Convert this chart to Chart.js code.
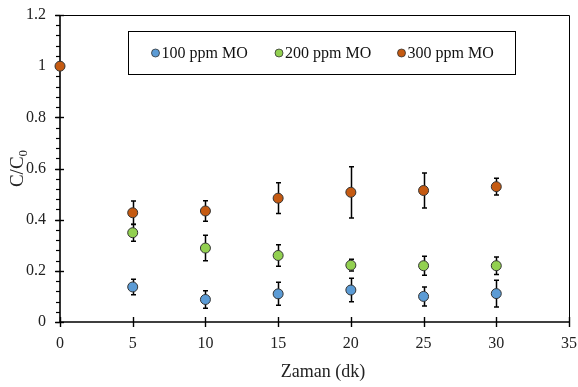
<!DOCTYPE html>
<html>
<head>
<meta charset="utf-8">
<script src="https://cdn.jsdelivr.net/npm/chart.js@4"></script>
<style>
  html, body { margin: 0; padding: 0; background: #fff; }
  #wrap { width: 578px; height: 387px; }
</style>
</head>
<body>
<div id="wrap"><canvas id="chart" width="578" height="387"></canvas></div>
<script>
// times (minutes)
const times = [0, 5, 10, 15, 20, 25, 30];
const times100 = [5, 10, 15, 20, 25, 30];

// C/C0 values
const mo100 = [0.137, 0.088, 0.110, 0.125, 0.100, 0.111];
const mo200 = [0.349, 0.289, 0.260, 0.222, 0.220, 0.220];
const mo300 = [1.0, 0.427, 0.434, 0.484, 0.507, 0.514, 0.529];

// error bar half-lengths
const err100 = [0.030, 0.034, 0.045, 0.046, 0.037, 0.052];
const err200 = [0.033, 0.050, 0.042, 0.023, 0.037, 0.034];
const err300 = [0, 0.046, 0.040, 0.060, 0.100, 0.068, 0.033];

const seriesNames = ["100 ppm MO", "200 ppm MO", "300 ppm MO"];
const seriesColors = ["#5B9BD5", "#92D050", "#C55A11"];
const yTicks = ["0", "0.2", "0.4", "0.6", "0.8", "1", "1.2"];
const xTicks = ["0", "5", "10", "15", "20", "25", "30", "35"];

const serif = "'Liberation Serif', 'Times New Roman', serif";

function pts(xs, ys) {
    return xs.map(function(x, i) { return { x: x, y: ys[i] }; });
}

const errorsBySet = [err100, err200, err300];

// frame, ticks and error bars drawn under the markers
const framePlugin = {
    id: "frame",
    beforeDatasetsDraw(chart) {
        const ctx = chart.ctx;
        const a = chart.chartArea;
        const xs = chart.scales.x;
        const ys = chart.scales.y;
        ctx.save();
        ctx.strokeStyle = "#000";

        // top and right frame
        ctx.lineWidth = 1;
        ctx.beginPath();
        ctx.moveTo(a.left, a.top + 0.5);
        ctx.lineTo(a.right + 0.5, a.top + 0.5);
        ctx.lineTo(a.right + 0.5, a.bottom);
        ctx.stroke();

        // axes
        ctx.lineWidth = 1.6;
        ctx.beginPath();
        ctx.moveTo(a.left, a.top);
        ctx.lineTo(a.left, a.bottom);
        ctx.lineTo(a.right + 1, a.bottom);
        ctx.stroke();

        // y minor ticks
        ctx.lineWidth = 1.2;
        for (let v = 0; v <= 1.2001; v += 0.04) {
            const py = Math.round(ys.getPixelForValue(v)) + 0.5;
            ctx.beginPath();
            ctx.moveTo(a.left - 4, py);
            ctx.lineTo(a.left, py);
            ctx.stroke();
        }
        // y major ticks
        ctx.lineWidth = 1.4;
        yTicks.forEach(function(t) {
            const py = Math.round(ys.getPixelForValue(parseFloat(t))) + 0.5;
            ctx.beginPath();
            ctx.moveTo(a.left - 5, py);
            ctx.lineTo(a.left + 4, py);
            ctx.stroke();
        });
        // x major ticks
        xTicks.forEach(function(t) {
            const px = Math.round(xs.getPixelForValue(parseFloat(t))) + 0.5;
            ctx.beginPath();
            ctx.moveTo(px, a.bottom - 5);
            ctx.lineTo(px, a.bottom + 5);
            ctx.stroke();
        });

        // error bars
        ctx.lineWidth = 1.5;
        chart.data.datasets.forEach(function(ds, di) {
            const errs = errorsBySet[di];
            ds.data.forEach(function(p, i) {
                const e = errs[i];
                if (!e) return;
                const px = Math.round(xs.getPixelForValue(p.x)) + 0.5;
                const top = ys.getPixelForValue(p.y + e);
                const bot = ys.getPixelForValue(p.y - e);
                ctx.beginPath();
                ctx.moveTo(px, top);
                ctx.lineTo(px, bot);
                ctx.moveTo(px - 2.5, top);
                ctx.lineTo(px + 2.5, top);
                ctx.moveTo(px - 2.5, bot);
                ctx.lineTo(px + 2.5, bot);
                ctx.stroke();
            });
        });
        ctx.restore();
    },
    afterDraw(chart) {
        const ctx = chart.ctx;
        const a = chart.chartArea;
        ctx.save();
        ctx.fillStyle = "#222";

        // x axis title
        ctx.font = "18px " + serif;
        ctx.textAlign = "center";
        ctx.textBaseline = "middle";
        ctx.fillText("Zaman (dk)", 323, 372);

        // y axis title C/C0 with subscript
        ctx.translate(17, (a.top + a.bottom) / 2);
        ctx.rotate(-Math.PI / 2);
        ctx.font = "19px " + serif;
        const main = "C/C";
        const sub = "0";
        const wMain = ctx.measureText(main).width;
        ctx.font = "13px " + serif;
        const wSub = ctx.measureText(sub).width;
        const start = -(wMain + wSub) / 2;
        ctx.textAlign = "left";
        ctx.textBaseline = "alphabetic";
        ctx.font = "19px " + serif;
        ctx.fillText(main, start, 6);
        ctx.font = "13px " + serif;
        ctx.fillText(sub, start + wMain, 10);
        ctx.restore();

        // legend box
        ctx.save();
        ctx.strokeStyle = "#000";
        ctx.lineWidth = 1;
        ctx.fillStyle = "#fff";
        ctx.fillRect(128.5, 31.5, 387, 43);
        ctx.strokeRect(128.5, 31.5, 387, 43);
        const itemX = [155.5, 279, 401.5];
        ctx.font = "16px " + serif;
        ctx.textAlign = "left";
        ctx.textBaseline = "middle";
        seriesNames.forEach(function(name, i) {
            ctx.beginPath();
            ctx.arc(itemX[i], 53, 4, 0, Math.PI * 2);
            ctx.fillStyle = seriesColors[i];
            ctx.fill();
            ctx.strokeStyle = "#333";
            ctx.lineWidth = 0.8;
            ctx.stroke();
            ctx.fillStyle = "#111";
            ctx.fillText(name, itemX[i] + 6, 54);
        });
        ctx.restore();
    }
};

function makeSet(label, data, color) {
    return {
        label: label,
        data: data,
        showLine: false,
        backgroundColor: color,
        borderColor: "#333",
        borderWidth: 1,
        pointRadius: 5,
        pointHoverRadius: 5,
        clip: false
    };
}

function noPad(s) {
    s.paddingTop = 0;
    s.paddingBottom = 0;
    s.paddingLeft = 0;
    s.paddingRight = 0;
}

document.addEventListener("DOMContentLoaded", function() {
    const ctx = document.getElementById("chart").getContext("2d");
    new Chart(ctx, {
        type: "scatter",
        data: {
            datasets: [
                makeSet(seriesNames[0], pts(times100, mo100), seriesColors[0]),
                makeSet(seriesNames[1], pts(times100, mo200), seriesColors[1]),
                makeSet(seriesNames[2], pts(times, mo300), seriesColors[2])
            ]
        },
        options: {
            responsive: false,
            animation: false,
            layout: { padding: { top: 15, right: 9, left: 0, bottom: 0 } },
            plugins: {
                legend: { display: false },
                tooltip: { enabled: false }
            },
            scales: {
                x: {
                    type: "linear",
                    min: 0,
                    max: 35,
                    afterFit: function(s) { s.height = 65; noPad(s); },
                    grid: { display: false, drawTicks: false },
                    border: { display: false },
                    ticks: {
                        stepSize: 5,
                        padding: 12,
                        color: "#222",
                        font: { family: serif, size: 16 },
                        callback: function(v) { return xTicks[Math.round(v / 5)]; }
                    }
                },
                y: {
                    type: "linear",
                    min: 0,
                    max: 1.2,
                    afterFit: function(s) { s.width = 60; noPad(s); },
                    grid: { display: false, drawTicks: false },
                    border: { display: false },
                    ticks: {
                        stepSize: 0.2,
                        padding: 14,
                        color: "#222",
                        font: { family: serif, size: 16 },
                        callback: function(v) { return yTicks[Math.round(v / 0.2)]; }
                    }
                }
            }
        },
        plugins: [framePlugin]
    });
});
</script>
</body>
</html>
